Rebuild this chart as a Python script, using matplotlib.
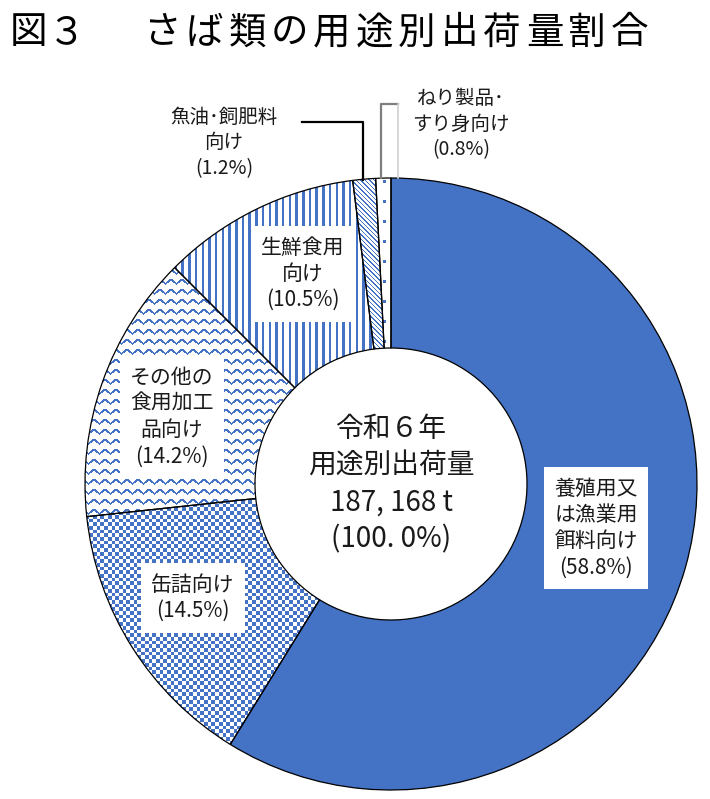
import numpy as np
import matplotlib
matplotlib.use("Agg")
import matplotlib.pyplot as plt

plt.rcParams['font.family'] = ['Noto Sans CJK JP', 'DejaVu Sans']

# data
categories = ["養殖用又は漁業用餌料向け", "缶詰向け", "その他の食用加工品向け",
              "生鮮食用向け", "魚油・飼肥料向け", "ねり製品・すり身向け"]
shares = [58.8, 14.5, 14.2, 10.5, 1.2, 0.8]
patterns = ["solid", "checker", "wave", "vstripe", "diag", "dots"]
label_texts = ["養殖用又\nは漁業用\n餌料向け\n(58.8%)",
               "缶詰向け\n(14.5%)",
               "その他の\n食用加工\n品向け\n(14.2%)",
               "生鮮食用\n向け\n(10.5%)",
               "魚油･飼肥料\n向け\n(1.2%)",
               "ねり製品･\nすり身向け\n(0.8%)"]
center_text = "令和６年\n用途別出荷量\n187, 168 t\n(100. 0%)"
title_chars = "図３さば類の用途別出荷量割合"

W, H = 710, 799
BLUE = np.array([0x44, 0x72, 0xC4]) / 255
TXT = "#1a1a1a"


def px(x, y):
    # pixel position (top-left origin) -> data coords
    return x, H - y


def texture(kind):
    yy, xx = np.mgrid[0:H, 0:W].astype(float)
    if kind == "solid":
        mask = np.ones((H, W), bool)
    elif kind == "checker":
        s = 3.7
        mask = ((xx // s).astype(int) + (yy // s).astype(int)) % 2 == 0
    elif kind == "wave":
        ph = (xx % 11) / 11
        off = 2.3 * (4 * np.abs(ph - 0.5) - 1)
        mask = ((yy - off) % 10) < 2.3
    elif kind == "vstripe":
        mask = (xx % 6.7) < 2.5
    elif kind == "diag":
        mask = ((xx - yy) % 4.5) < 1.3
    else:
        mask = (((xx - 3) % 10) < 2.5) & ((yy % 20) < 2.5)
    img = np.ones((H, W, 3))
    img[mask] = BLUE
    return img


fig = plt.figure(figsize=(W / 100, H / 100), dpi=100)
ax = fig.add_axes([0, 0, 1, 1])

cx, cy = px(391, 484)
r_out, r_in = 306, 136
wedges, _ = ax.pie(shares, startangle=90, counterclock=False, radius=r_out,
                   center=(cx, cy), frame=True,
                   wedgeprops=dict(width=r_out - r_in, edgecolor="black",
                                   linewidth=0.9, facecolor="none"))
for w, pat in zip(wedges, patterns):
    w.set_zorder(3)
    im = ax.imshow(texture(pat), extent=(0, W, 0, H), origin="upper",
                   interpolation="nearest", zorder=2)
    im.set_clip_path(w)

ax.set_xlim(0, W)
ax.set_ylim(0, H)
ax.set_aspect("equal")
ax.axis("off")

# labels with white boxes
box = dict(boxstyle="square,pad=0.5", fc="white", ec="none")
label_pos = [(596, 528), (193, 598), (172, 417), (303, 274)]
for txt, (x, y) in zip(label_texts[:4], label_pos):
    ax.text(*px(x, y), txt, ha="center", va="center", fontsize=15,
            linespacing=1.25, color=TXT, bbox=box, zorder=5)

ax.text(*px(224, 143), label_texts[4], ha="center", va="center", fontsize=14,
        linespacing=1.3, color=TXT, zorder=5)
ax.text(*px(461, 124), label_texts[5], ha="center", va="center", fontsize=14,
        linespacing=1.3, color=TXT, zorder=5)

# leader lines
ax.plot(*zip(px(302, 122), px(363, 122), px(363, 180)), color="black", lw=1.6, zorder=4)
ax.plot(*zip(px(381, 178), px(381, 104), px(398, 104)), color="#7f7f7f", lw=1.6, zorder=4)
ax.plot(*zip(px(398, 104), px(398, 178)), color="#d0d0d0", lw=1.2, zorder=4)

# centre text
ax.text(cx, cy, center_text, ha="center", va="center", fontsize=20,
        linespacing=1.3, color=TXT, zorder=5)

# title, laid out character by character
title_x = [28, 67] + [162 + 42.5 * i for i in range(12)]
for ch, x in zip(title_chars, title_x):
    ax.text(*px(x, 33), ch, ha="center", va="center", fontsize=27,
            color="black", zorder=5)

fig.savefig("out.png", dpi=100)
